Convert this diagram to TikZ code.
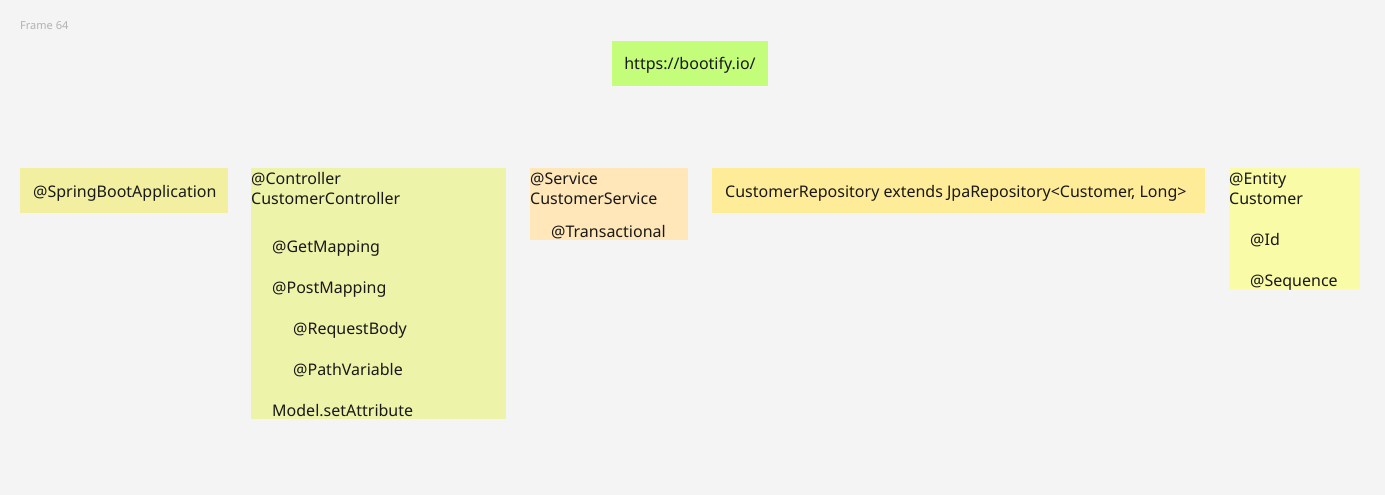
\documentclass[tikz,border=0pt]{standalone}
\usepackage{fontspec}
\setmainfont{Noto Sans}
\definecolor{canvas}{RGB}{244,244,244}
\definecolor{framegray}{RGB}{178,178,178}
\definecolor{urlgreen}{RGB}{196,253,122}
\definecolor{bootyellow}{RGB}{242,240,160}
\definecolor{ctrlgreen}{RGB}{238,243,170}
\definecolor{svcorange}{RGB}{255,231,186}
\definecolor{repoyellow}{RGB}{255,236,153}
\definecolor{entyellow}{RGB}{249,251,166}

\tikzstyle{note}=[rectangle, draw=none, inner sep=0pt, anchor=north west]
\tikzstyle{label}=[inner sep=0pt, anchor=base west, font=\fontsize{16}{19}\selectfont, text=black!90]

\begin{document}
\begin{tikzpicture}[x=1pt, y=-1pt]
        \fill[canvas] (0,0) rectangle (1385,495);
        \useasboundingbox (0,0) rectangle (1385,495);
        \node[inner sep=0pt, anchor=base west, font=\fontsize{11}{13}\selectfont, text=framegray] (frame) at (20,30) {Frame 64};
        % sticky notes
        \foreach \pos/\w/\h/\col/\name in {{(612,41)/156/45/urlgreen/url}, {(20,168)/208/45/bootyellow/boot},
            {(251,168)/255/251/ctrlgreen/ctrl}, {(530,168)/158/72/svcorange/svc},
            {(712,168)/493/45/repoyellow/repo}, {(1229,168)/131/121/entyellow/ent}}
            \node[note, fill=\col, minimum width=\w, minimum height=\h] (\name) at \pos {};
        \node[label, anchor=base] (urltext) at (690,69.5) {https://bootify.io/};
        \node[label] (boottext) at (33,197) {@SpringBootApplication};
        \node[label] (repotext) at (725,197) {CustomerRepository extends JpaRepository<Customer, Long>};
        % annotations
        \foreach \pos/\txt/\name in {{(251,184)/@Controller/c1}, {(251,204)/CustomerController/c2},
            {(272,252)/@GetMapping/c3}, {(272,293)/@PostMapping/c4}, {(293,334)/@RequestBody/c5},
            {(293,375)/@PathVariable/c6}, {(272,416)/Model.setAttribute/c7},
            {(530,184)/@Service/s1}, {(530,204)/CustomerService/s2}, {(551,237)/@Transactional/s3},
            {(1229,184)/@Entity/e1}, {(1229,204)/Customer/e2}, {(1250,245)/@Id/e3}, {(1250,286)/@Sequence/e4}}
            \node[label] (\name) at \pos {\txt};
    \end{tikzpicture}
\end{document}
